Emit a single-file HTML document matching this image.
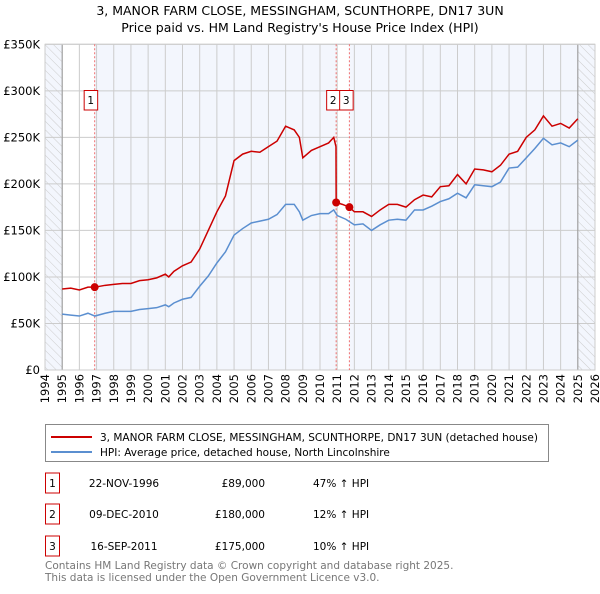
<!DOCTYPE html>
<html><head><meta charset="utf-8"><style>
body{margin:0;background:#fff;font-family:"DejaVu Sans","Liberation Sans",sans-serif;}
svg text{font-family:"DejaVu Sans","Liberation Sans",sans-serif;}
</style></head><body>
<svg id="chart" width="600" height="590" xmlns="http://www.w3.org/2000/svg">
<defs><pattern id="hatch" width="6" height="6" patternUnits="userSpaceOnUse" patternTransform="rotate(-45)"><line x1="0" y1="0" x2="0" y2="6" stroke="#ccc" stroke-width="1"/></pattern></defs>
<text x="300" y="15" text-anchor="middle" font-size="12.5">3, MANOR FARM CLOSE, MESSINGHAM, SCUNTHORPE, DN17 3UN</text>
<text x="300" y="32" text-anchor="middle" font-size="12.5">Price paid vs. HM Land Registry's House Price Index (HPI)</text>
<g id="plot"></g>
<g>
<rect x="45.5" y="424.5" width="503" height="37" fill="#fff" stroke="#888"/>
<line x1="51" y1="437" x2="92" y2="437" stroke="#cc0000" stroke-width="2"/>
<text x="100" y="441" font-size="10.5">3, MANOR FARM CLOSE, MESSINGHAM, SCUNTHORPE, DN17 3UN (detached house)</text>
<line x1="51" y1="452" x2="92" y2="452" stroke="#5b8fd0" stroke-width="2"/>
<text x="100" y="456" font-size="10.5">HPI: Average price, detached house, North Lincolnshire</text>
</g>
<g id="table" font-size="10.5"></g>
<text x="45" y="569" font-size="10.5" fill="#777">Contains HM Land Registry data © Crown copyright and database right 2025.</text>
<text x="45" y="581" font-size="10.5" fill="#777">This data is licensed under the Open Government Licence v3.0.</text>
</svg>
<script>
const hpiYears=[1995,1995.5,1996,1996.5,1996.9,1997.5,1998,1998.5,1999,1999.5,2000,2000.5,2001,2001.2,2001.5,2002,2002.5,2003,2003.5,2004,2004.5,2005,2005.5,2006,2006.5,2007,2007.5,2008,2008.5,2008.8,2009,2009.5,2010,2010.5,2010.8,2011,2011.5,2012,2012.5,2013,2013.5,2014,2014.5,2015,2015.5,2016,2016.5,2017,2017.5,2018,2018.5,2019,2019.5,2020,2020.5,2021,2021.5,2022,2022.5,2023,2023.5,2024,2024.5,2025];
const hpiValues=[60,59,58,61,58,61,63,63,63,65,66,67,70,68,72,76,78,90,101,115,127,145,152,158,160,162,167,178,178,170,161,166,168,168,172,166,162,156,157,150,156,161,162,161,172,172,176,181,184,190,185,199,198,197,202,217,218,228,238,249,242,244,240,247];
const redYears=[1995,1995.5,1996,1996.5,1996.9,1997.5,1998,1998.5,1999,1999.5,2000,2000.5,2001,2001.2,2001.5,2002,2002.5,2003,2003.5,2004,2004.5,2005,2005.5,2006,2006.5,2007,2007.5,2008,2008.5,2008.8,2009,2009.5,2010,2010.5,2010.8,2010.93,2010.94,2011.3,2011.71,2012,2012.5,2013,2013.5,2014,2014.5,2015,2015.5,2016,2016.5,2017,2017.5,2018,2018.5,2019,2019.5,2020,2020.5,2021,2021.5,2022,2022.5,2023,2023.5,2024,2024.5,2025];
const redValues=[87,88,86,89,89,91,92,93,93,96,97,99,103,100,106,112,116,130,150,170,187,225,232,235,234,240,246,262,258,250,228,236,240,244,250,240,180,178,175,170,170,165,172,178,178,175,183,188,186,197,198,210,200,216,215,213,220,232,235,250,258,273,262,265,260,270];
const saleYears=[1996.89,2010.94,2011.71];
const saleValues=[89,180,175];
const saleLabels=["1","2","3"];
const saleDates=["22-NOV-1996","09-DEC-2010","16-SEP-2011"];
const salePrices=["£89,000","£180,000","£175,000"];
const saleHpi=["47% ↑ HPI","12% ↑ HPI","10% ↑ HPI"];
const yTicks=[0,50,100,150,200,250,300,350];
const yTickLabels=["£0","£50K","£100K","£150K","£200K","£250K","£300K","£350K"];
const xTicks=[1994,1995,1996,1997,1998,1999,2000,2001,2002,2003,2004,2005,2006,2007,2008,2009,2010,2011,2012,2013,2014,2015,2016,2017,2018,2019,2020,2021,2022,2023,2024,2025,2026];

const NS="http://www.w3.org/2000/svg";
const L=45,R=595,T=44.3,B=370;
const x=v=>L+(v-1994)/32*(R-L);
const y=v=>B-v/350*(B-T);
const plot=document.getElementById('plot');
function mk(tag,attrs,parent){const e=document.createElementNS(NS,tag);for(const k in attrs)e.setAttribute(k,attrs[k]);(parent||plot).appendChild(e);return e;}
let e;
e=mk('rect',{x:L,y:T,width:R-L,height:B-T,fill:'#f3f6fd'});


e=mk('rect',{x:x(1995),y:T,width:x(saleYears[0])-x(1995),height:B-T,fill:'#fff'});


e=mk('rect',{x:x(saleYears[1]),y:T,width:x(saleYears[2])-x(saleYears[1]),height:B-T,fill:'#fff'});


e=mk('rect',{x:L,y:T,width:x(1995)-L,height:B-T,fill:'url(#hatch)'});


e=mk('rect',{x:x(2025),y:T,width:R-x(2025),height:B-T,fill:'url(#hatch)'});


yTicks.forEach((t,i)=>{
  e=mk('line',{x1:L,x2:R,y1:y(t),y2:y(t),stroke:'#ccc'});
  
  
  e=mk('text',{x:40,y:y(t)+4,'text-anchor':'end','font-size':'11.5'});
  e.textContent=yTickLabels[i];
  
  
});
xTicks.forEach(t=>{
  e=mk('line',{x1:x(t),x2:x(t),y1:T,y2:B,stroke:'#ccc'});
  
  
  e=mk('text',{x:0,y:0,'text-anchor':'end','font-size':'11.5',transform:`translate(${x(t)+4},${B+4}) rotate(-90)`});
  e.textContent=t;
  
  
});
e=mk('line',{x1:x(1995),x2:x(1995),y1:T,y2:B,stroke:'#999'});


e=mk('line',{x1:x(2025),x2:x(2025),y1:T,y2:B,stroke:'#999'});


e=mk('rect',{x:L,y:T,width:R-L,height:B-T,fill:'none',stroke:'#ccc'});


saleYears.forEach((s,i)=>{
  e=mk('line',{x1:x(s),x2:x(s),y1:T,y2:B,stroke:'#f07070','stroke-dasharray':'2,2'});
  
  
});
e=mk('polyline',{points:hpiYears.map((v,i)=>x(v)+','+y(hpiValues[i])).join(' '),fill:'none',stroke:'#5b8fd0','stroke-width':1.5});


e=mk('polyline',{points:redYears.map((v,i)=>x(v)+','+y(redValues[i])).join(' '),fill:'none',stroke:'#cc0000','stroke-width':1.5});


saleYears.forEach((s,i)=>{
  e=mk('circle',{cx:x(s),cy:y(saleValues[i]),r:4,fill:'#cc0000'});
  
  
});
const bx=[x(saleYears[0])-11,x(saleYears[1])-10,x(saleYears[1])+3];
saleYears.forEach((s,i)=>{
  e=mk('rect',{x:bx[i]+0.5,y:90.5,width:13.5,height:19.5,fill:'#fff',stroke:'#cc0000'});
  
  
  e=mk('text',{x:bx[i]+7,y:104,'text-anchor':'middle','font-size':'10.5'});
  e.textContent=saleLabels[i];
  
  
});
const tbl=document.getElementById('table');
const rowY=[483,514,546];
saleLabels.forEach((l,i)=>{
  const cy=rowY[i];
  e=mk('rect',{x:45.5,y:cy-10,width:14,height:20,fill:'#fff',stroke:'#cc0000'},tbl);
  
  
  e=mk('text',{x:52.5,y:cy+4,'text-anchor':'middle'},tbl);e.textContent=l;
  
  
  e=mk('text',{x:124,y:cy+4,'text-anchor':'middle'},tbl);e.textContent=saleDates[i];
  
  
  e=mk('text',{x:265,y:cy+4,'text-anchor':'end'},tbl);e.textContent=salePrices[i];
  
  
  e=mk('text',{x:313,y:cy+4},tbl);e.textContent=saleHpi[i];
  
  
});
</script>
</body></html>
